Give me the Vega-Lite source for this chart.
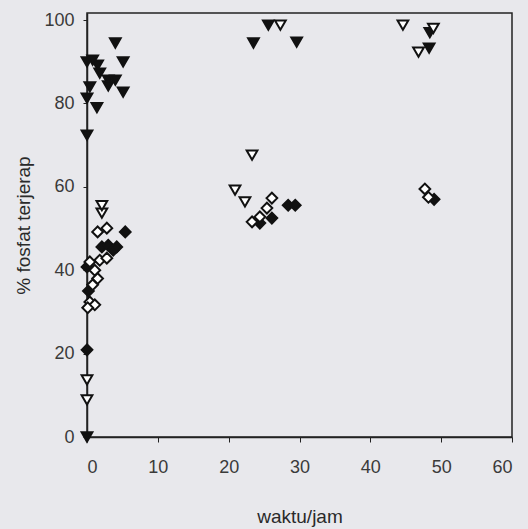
{
  "$schema": "https://vega.github.io/schema/vega-lite/v6.json",
  "width": 425,
  "height": 424,
  "autosize": "none",
  "padding": {"left": 87, "top": 13, "right": 16, "bottom": 92},
  "background": "#e8e8ec",
  "config": {"view": {"stroke": "#222", "strokeWidth": 1.5}, "font": "Liberation Sans"},
  "data": {"values": [
    {"t": 0, "p": 0, "s": "A"},
    {"t": 0, "p": 72.4, "s": "A"},
    {"t": 0, "p": 81.3, "s": "A"},
    {"t": 0, "p": 90, "s": "A"},
    {"t": 0.8, "p": 90.4, "s": "A"},
    {"t": 1.5, "p": 89.2, "s": "A"},
    {"t": 1.8, "p": 87.3, "s": "A"},
    {"t": 3, "p": 85.6, "s": "A"},
    {"t": 4, "p": 85.6, "s": "A"},
    {"t": 0.4, "p": 84, "s": "A"},
    {"t": 3, "p": 84.2, "s": "A"},
    {"t": 5.1, "p": 82.7, "s": "A"},
    {"t": 5.1, "p": 90, "s": "A"},
    {"t": 4, "p": 94.5, "s": "A"},
    {"t": 1.4, "p": 79, "s": "A"},
    {"t": 23.5, "p": 94.5, "s": "A"},
    {"t": 25.6, "p": 98.8, "s": "A"},
    {"t": 29.6, "p": 94.7, "s": "A"},
    {"t": 48.4, "p": 97, "s": "A"},
    {"t": 48.3, "p": 93.3, "s": "A"},
    {"t": 0, "p": 20.9, "s": "C"},
    {"t": 0, "p": 40.8, "s": "C"},
    {"t": 0.2, "p": 35, "s": "C"},
    {"t": 2.1, "p": 45.6, "s": "C"},
    {"t": 3, "p": 46, "s": "C"},
    {"t": 3.7, "p": 44.8, "s": "C"},
    {"t": 4.2, "p": 45.6, "s": "C"},
    {"t": 5.4, "p": 49.2, "s": "C"},
    {"t": 24.4, "p": 51.3, "s": "C"},
    {"t": 26.1, "p": 52.5, "s": "C"},
    {"t": 28.4, "p": 55.6, "s": "C"},
    {"t": 29.4, "p": 55.6, "s": "C"},
    {"t": 49, "p": 57, "s": "C"},
    {"t": 0.4, "p": 42, "s": "D"},
    {"t": 1.8, "p": 42.4, "s": "D"},
    {"t": 2.8, "p": 42.9, "s": "D"},
    {"t": 1.1, "p": 40, "s": "D"},
    {"t": 1.5, "p": 38, "s": "D"},
    {"t": 0.8, "p": 36.5, "s": "D"},
    {"t": 0.4, "p": 32.4, "s": "D"},
    {"t": 1.1, "p": 31.7, "s": "D"},
    {"t": 0.1, "p": 31, "s": "D"},
    {"t": 1.5, "p": 49.2, "s": "D"},
    {"t": 2.8, "p": 50.1, "s": "D"},
    {"t": 23.3, "p": 51.6, "s": "D"},
    {"t": 24.4, "p": 52.8, "s": "D"},
    {"t": 25.4, "p": 54.9, "s": "D"},
    {"t": 26.1, "p": 57.3, "s": "D"},
    {"t": 47.7, "p": 59.5, "s": "D"},
    {"t": 48.2, "p": 57.5, "s": "D"},
    {"t": 0, "p": 8.9, "s": "B"},
    {"t": 0, "p": 13.7, "s": "B"},
    {"t": 2.1, "p": 53.7, "s": "B"},
    {"t": 2.1, "p": 55.5, "s": "B"},
    {"t": 20.9, "p": 59.2, "s": "B"},
    {"t": 22.3, "p": 56.4, "s": "B"},
    {"t": 23.3, "p": 67.6, "s": "B"},
    {"t": 27.3, "p": 98.8, "s": "B"},
    {"t": 44.6, "p": 98.8, "s": "B"},
    {"t": 46.8, "p": 92.3, "s": "B"},
    {"t": 48.9, "p": 98, "s": "B"}
  ]},
  "mark": {"type": "point", "filled": true, "stroke": "#111", "strokeWidth": 2, "opacity": 1},
  "encoding": {
    "x": {
      "field": "t", "type": "quantitative",
      "scale": {"domain": [0, 60], "nice": false, "zero": false},
      "axis": {
        "values": [0, 10, 20, 30, 40, 50, 60], "grid": false, "title": "waktu/jam",
        "tickSize": 5, "labelPadding": 16, "labelFontSize": 18, "labelColor": "#3a3a3a",
        "titleFontSize": 19, "titleFontWeight": "normal", "titleColor": "#2a2a2a", "titlePadding": 31,
        "domainColor": "#222", "tickColor": "#222", "domainWidth": 1.5
      }
    },
    "y": {
      "field": "p", "type": "quantitative",
      "scale": {"domain": [0, 101.7], "nice": false, "zero": false},
      "axis": {
        "values": [0, 20, 40, 60, 80, 100], "grid": false, "title": "% fosfat terjerap",
        "tickSize": 4, "labelPadding": 9, "labelFontSize": 18, "labelColor": "#3a3a3a",
        "titleFontSize": 19, "titleFontWeight": "normal", "titleColor": "#2a2a2a", "titlePadding": 10,
        "domainColor": "#222", "tickColor": "#222", "domainWidth": 1.5
      }
    },
    "shape": {
      "field": "s", "type": "nominal",
      "scale": {"domain": ["A", "B", "C", "D"], "range": ["triangle-down", "triangle-down", "diamond", "diamond"]},
      "legend": null
    },
    "fill": {
      "field": "s", "type": "nominal",
      "scale": {"domain": ["A", "B", "C", "D"], "range": ["#111", "#ffffff", "#111", "#ffffff"]},
      "legend": null
    },
    "size": {
      "field": "s", "type": "nominal",
      "scale": {"domain": ["A", "B", "C", "D"], "range": [115, 115, 125, 125]},
      "legend": null
    }
  }
}
